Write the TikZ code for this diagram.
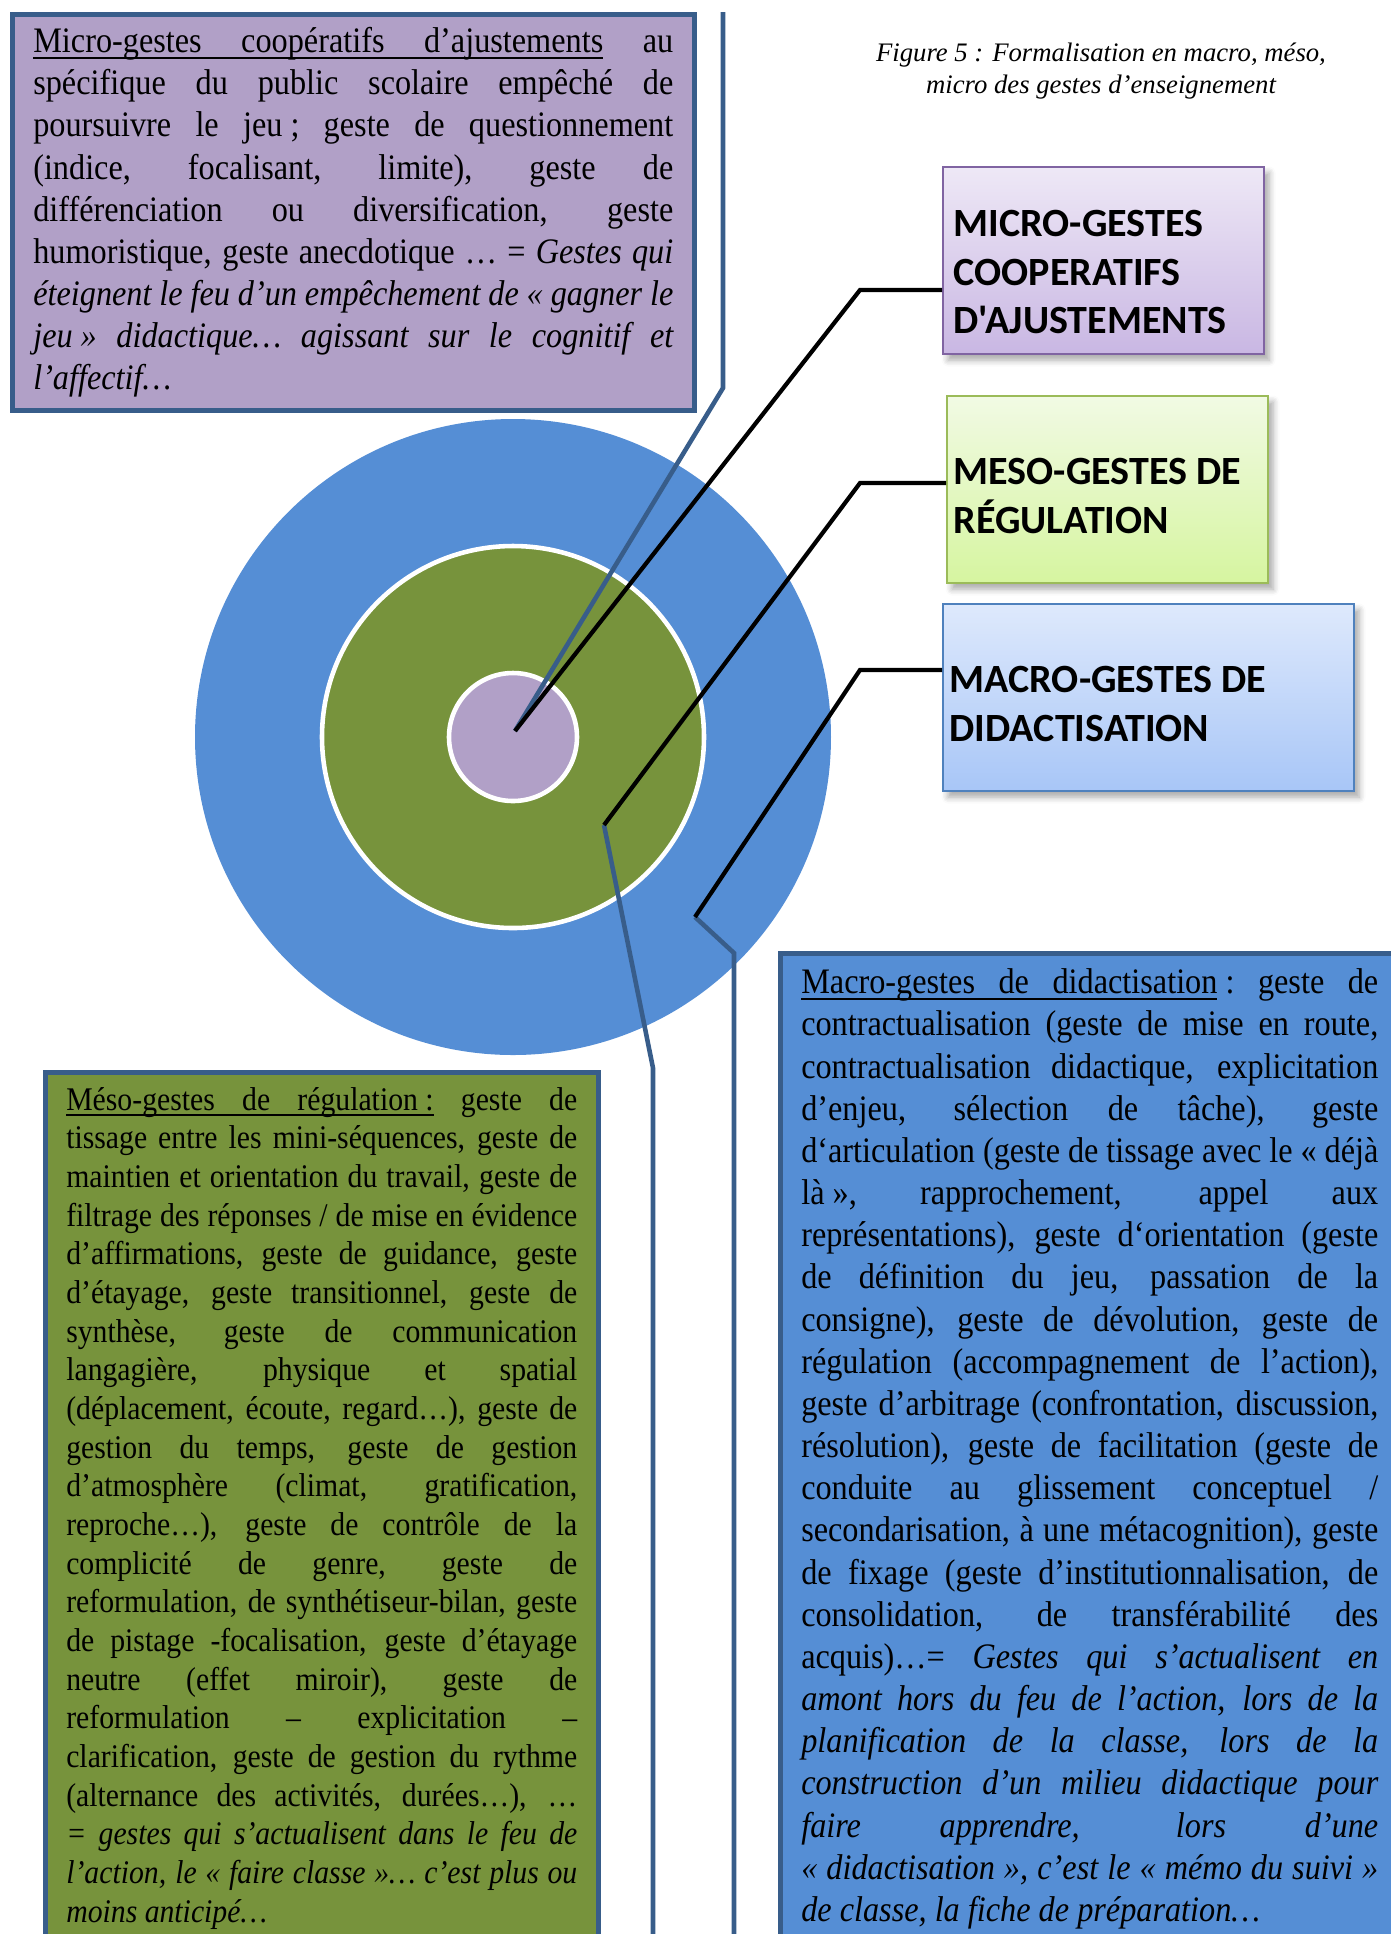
\documentclass[tikz,border=0pt]{standalone}
\usepackage{fontspec}
\setmainfont{Liberation Serif}
\newfontfamily\lblfont{Carlito}
\newfontfamily\bodyfont[FakeStretch=0.9]{Liberation Serif}
\usepackage{tikz}
\usetikzlibrary{positioning,calc,shadows.blur}
\definecolor{gFrame}{RGB}{56,93,138}
\definecolor{gPurple}{RGB}{177,160,199}
\definecolor{gGreen}{RGB}{119,147,60}
\definecolor{gBlue}{RGB}{85,142,213}
\definecolor{lPurpleTop}{RGB}{238,232,246}
\definecolor{lPurpleBot}{RGB}{201,183,227}
\definecolor{lPurpleLine}{RGB}{128,100,162}
\definecolor{lGreenTop}{RGB}{241,250,228}
\definecolor{lGreenBot}{RGB}{214,245,160}
\definecolor{lGreenLine}{RGB}{155,187,89}
\definecolor{lBlueTop}{RGB}{222,233,252}
\definecolor{lBlueBot}{RGB}{168,198,247}
\definecolor{lBlueLine}{RGB}{79,129,189}
% underlined word, and an underlined stretchable space
\newcommand\ulw[1]{\setbox0\hbox{#1}\rlap{\rule[-0.17em]{\wd0}{0.05em}}\box0\relax}
\newcommand\ulsp{\leaders\hrule height -0.12em depth 0.17em
  \hskip\fontdimen2\font plus\fontdimen3\font minus\fontdimen4\font}
\tikzset{
  txtbox/.style={rectangle, draw=gFrame, line width=1.3pt, anchor=north west,
                 inner xsep=2.1mm, align=justify},
  ring/.style={circle, inner sep=0pt, draw=white, line width=1.3pt},
  lblbox/.style={rectangle, anchor=north west, minimum height=18.7mm,
                 line width=0.6pt,
                 blur shadow={shadow xshift=0.5mm, shadow yshift=-0.6mm,
                              shadow blur steps=5, shadow opacity=35}},
  lbltext/.style={anchor=west, inner sep=0pt, align=left,
                  font=\lblfont\bfseries\fontsize{11.4}{13.9}\selectfont},
  lead/.style={draw=black, line width=1.2pt},
  callout/.style={draw=gFrame, line width=1.3pt},
}

\begin{document}
\begin{tikzpicture}[x=0.1mm, y=-0.1mm]
  \useasboundingbox (0,0) rectangle (1391,1934);
  % target rings
  \node[ring, fill=gBlue, draw=none, minimum size=63.6mm] (outer) at (513,737) {};
  \node[ring, fill=gGreen, minimum size=38.2mm] (middle) at (513,737) {};
  \node[ring, fill=gPurple, minimum size=12.8mm] (inner) at (513,737) {};
  % caption
  \node[font=\itshape\fontsize{7.6}{9.1}\selectfont, align=center] (caption) at (1101,71)
    {Figure 5 : Formalisation en macro, méso,\\micro des gestes d’enseignement};
  % labels on the right
  \node[lblbox, minimum width=32.1mm, top color=lPurpleTop, bottom color=lPurpleBot,
        draw=lPurpleLine] (lblMicro) at (942,166) {};
  \node[lblbox, minimum width=32.1mm, top color=lGreenTop, bottom color=lGreenBot,
        draw=lGreenLine] (lblMeso) at (946,395) {};
  \node[lblbox, minimum width=41.1mm, top color=lBlueTop, bottom color=lBlueBot,
        draw=lBlueLine] (lblMacro) at (942,603) {};
  \node[lbltext] (nameMicro) at (953,272) {MICRO-GESTES\\COOPERATIFS\\D'AJUSTEMENTS};
  \node[lbltext] (nameMeso)  at (953,496) {MESO-GESTES DE\\RÉGULATION};
  \node[lbltext] (nameMacro) at (949,704) {MACRO-GESTES DE\\DIDACTISATION};
  % text boxes
  \node[txtbox, fill=gPurple, text width=64mm, inner ysep=1.3mm,
        font=\bodyfont\fontsize{10.2}{12}\selectfont] (microBox) at (10,12)
    {\ulw{Micro-gestes}\ulsp\ulw{coopératifs}\ulsp\ulw{d’ajustements} au\linebreak
     spécifique du public scolaire empêché de\linebreak
     poursuivre le \mbox{jeu ;} geste de questionnement\linebreak
     (indice, focalisant, limite), geste de\linebreak
     différenciation ou diversification, geste\linebreak
     humoristique, geste anecdotique … = \textit{Gestes qui\linebreak
     éteignent le feu d’un empêchement de «~gagner le\linebreak
     \mbox{jeu »} didactique… agissant sur le cognitif et\linebreak
     l’affectif…}};
  \node[txtbox, fill=gGreen, text width=51.1mm, inner ysep=1.5mm,
        font=\bodyfont\fontsize{9.4}{11}\selectfont] (mesoBox) at (43,1070)
    {\ulw{Méso-gestes}\ulsp\ulw{de}\ulsp\ulw{régulation~:} geste de\linebreak
     tissage entre les mini-séquences, geste de\linebreak
     maintien et orientation du travail, geste de\linebreak
     filtrage des réponses / de mise en évidence\linebreak
     d’affirmations, geste de guidance, geste\linebreak
     d’étayage, geste transitionnel, geste de\linebreak
     synthèse, geste de communication\linebreak
     langagière, physique et spatial\linebreak
     (déplacement, écoute, regard…), geste de\linebreak
     gestion du temps, geste de gestion\linebreak
     d’atmosphère (climat, gratification,\linebreak
     reproche…), geste de contrôle de la\linebreak
     complicité de genre, geste de\linebreak
     reformulation, de synthétiseur-bilan, geste\linebreak
     de pistage -focalisation, geste d’étayage\linebreak
     neutre (effet miroir), geste de\linebreak
     reformulation – explicitation –\linebreak
     clarification, geste de gestion du rythme\linebreak
     (alternance des activités, durées…), …\linebreak
     \textit{= gestes qui s’actualisent dans le feu de\linebreak
     l’action, le «~faire classe~»… c’est plus ou\linebreak
     moins anticipé…}};
  \node[txtbox, fill=gBlue, text width=57.7mm, inner ysep=1.55mm,
        font=\bodyfont\fontsize{10.2}{12}\selectfont] (macroBox) at (778,951)
    {\ulw{Macro-gestes}\ulsp\ulw{de}\ulsp\ulw{didactisation}\mbox{ :} geste de\linebreak
     contractualisation (geste de mise en route,\linebreak
     contractualisation didactique, explicitation\linebreak
     d’enjeu, sélection de tâche), geste\linebreak
     d‘articulation (geste de tissage avec le «~déjà\linebreak
     \mbox{là »,} rapprochement, appel aux\linebreak
     représentations), geste d‘orientation (geste\linebreak
     de définition du jeu, passation de la\linebreak
     consigne), geste de dévolution, geste de\linebreak
     régulation (accompagnement de l’action),\linebreak
     geste d’arbitrage (confrontation, discussion,\linebreak
     résolution), geste de facilitation (geste de\linebreak
     conduite au glissement conceptuel /\linebreak
     secondarisation, à une métacognition), geste\linebreak
     de fixage (geste d’institutionnalisation, de\linebreak
     consolidation, de transférabilité des\linebreak
     acquis)…= \textit{Gestes qui s’actualisent en\linebreak
     amont hors du feu de l’action, lors de la\linebreak
     planification de la classe, lors de la\linebreak
     construction d’un milieu didactique pour\linebreak
     faire apprendre, lors d’une\linebreak
     «~didactisation~», c’est le «~mémo du suivi~»\linebreak
     de classe, la fiche de préparation…}};
  % pointers into the rings
  \coordinate (pMicro) at (515,731);
  \coordinate (pMeso)  at (604,825);
  \coordinate (pMacro) at (695,917);
  \coordinate (kMicro) at (860,290);
  \coordinate (kMeso)  at (860,483);
  \coordinate (kMacro) at (860,670);
  \coordinate (cMicro) at (723,388);
  \coordinate (cMeso)  at (653,1068);
  \coordinate (cMacro) at (734,953);
  \draw[callout] (pMicro) -- (cMicro) -- (cMicro |- microBox.north);
  \draw[callout] (pMeso) -- (cMeso) -- (cMeso |- mesoBox.south);
  \draw[callout] (pMacro) -- (cMacro) -- (cMacro |- macroBox.south);
  \draw[lead] (pMicro) -- (kMicro) -- (kMicro -| lblMicro.west);
  \draw[lead] (pMeso) -- (kMeso) -- (kMeso -| lblMeso.west);
  \draw[lead] (pMacro) -- (kMacro) -- (kMacro -| lblMacro.west);
\end{tikzpicture}
\end{document}
